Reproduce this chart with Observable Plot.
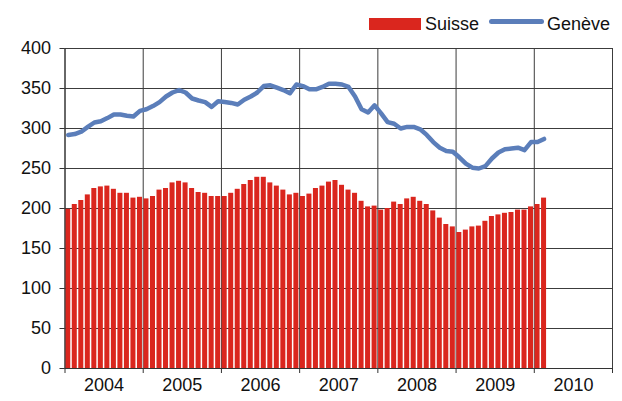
<!DOCTYPE html>
<html>
<head>
<meta charset="utf-8">
<script src="https://cdn.jsdelivr.net/npm/d3@7"></script>
<script src="https://cdn.jsdelivr.net/npm/@observablehq/plot@0.6"></script>
<style>
  html, body { margin: 0; padding: 0; background: #fff; }
  #wrap { position: relative; width: 622px; height: 401px; font-family: "Liberation Sans", Arial, sans-serif; }
  .leg { position: absolute; font-size: 18px; color: #111; line-height: 18px; }
</style>
</head>
<body>
<div id="wrap">
  <div class="leg" style="left:369px;top:18px;width:52px;height:12px;background:#DA261E;"></div>
  <div class="leg" style="left:425px;top:15px;">Suisse</div>
  <div class="leg" style="left:489px;top:19px;width:55px;height:5px;border-radius:3px;background:#5B7EBA;"></div>
  <div class="leg" style="left:547px;top:15px;">Genève</div>
</div>
<script>
// Monthly series, January 2004 – February 2010
const startYear = 2004;
const years = [2004, 2005, 2006, 2007, 2008, 2009, 2010];
const yTicks = [0, 50, 100, 150, 200, 250, 300, 350, 400];

const suisse = [
  199, 205, 210, 217, 225, 227, 228, 224, 219, 219, 213, 214, // 2004
  212, 215, 223, 225, 232, 234, 232, 225, 220, 219, 215, 215, // 2005
  215, 219, 224, 230, 235, 239, 239, 232, 228, 223, 217, 219, // 2006
  215, 218, 225, 228, 233, 235, 229, 223, 219, 209, 202, 203, // 2007
  198, 200, 208, 205, 212, 214, 209, 205, 197, 188, 180, 177, // 2008
  170, 173, 177, 178, 184, 190, 192, 194, 195, 198, 198, 202, // 2009
  205, 213                                                    // 2010
];
const geneve = [
  292, 293, 296, 302, 307.5, 309, 313, 317.5, 317.5, 316, 315, 322,
  324, 328, 333, 340, 345, 348, 345, 337.5, 335, 333, 327, 334,
  333, 332, 330, 336, 340, 345, 353, 354, 351, 348, 344, 355,
  353, 349, 349, 352, 356, 356, 355, 352, 340, 324, 320, 329,
  319, 308, 306, 300, 302, 302, 299, 292, 283, 276, 272, 271,
  264, 256, 251, 250, 253, 262.5, 270, 274, 275, 276, 273, 283,
  283, 287
];

const data = suisse.map((v, i) => ({i, suisse: v, geneve: geneve[i]}));
const yearBounds = d3.range(0, years.length + 1).map(k => k * 12);
const yearMids = years.map((y, k) => k * 12 + 6);

const grid = "#3c3c3c";
const chart = Plot.plot({
  width: 622,
  height: 401,
  marginLeft: 64.5,
  marginRight: 10,
  marginTop: 48,
  marginBottom: 33,
  style: {fontFamily: "'Liberation Sans', Arial, sans-serif", fontSize: "18px", color: "#111", background: "transparent"},
  x: {type: "linear", domain: [0, years.length * 12], axis: null},
  y: {domain: [0, 400], axis: null},
  marks: [
    Plot.ruleY(yTicks, {stroke: grid, strokeWidth: 1}),
    Plot.ruleX(yearBounds, {stroke: grid, strokeWidth: 1}),
    Plot.rectY(data, {x1: d => d.i, x2: d => d.i + 1, y: "suisse", fill: "#DA261E", insetLeft: 0.75, insetRight: 0.75}),
    Plot.line(data, {x: d => d.i + 0.5, y: "geneve", stroke: "#5B7EBA", strokeWidth: 4.5, strokeLinejoin: "round", strokeLinecap: "round"}),
    Plot.ruleY([0], {stroke: "#333"}),
    Plot.ruleX([0], {stroke: "#333"}),
    Plot.axisY(yTicks, {tickSize: 5, tickPadding: 9, fontSize: 18, label: null, stroke: "#333"}),
    Plot.axisX(yearBounds, {tickSize: 5, tickFormat: () => "", label: null, stroke: "#333"}),
    Plot.axisX(yearMids, {tickSize: 0, tickPadding: 10, fontSize: 18, label: null, tickFormat: (d) => String(startYear + Math.floor(d / 12))})
  ]
});
chart.style.position = "absolute";
chart.style.left = "0";
chart.style.top = "0";
document.getElementById("wrap").prepend(chart);
</script>
</body>
</html>
